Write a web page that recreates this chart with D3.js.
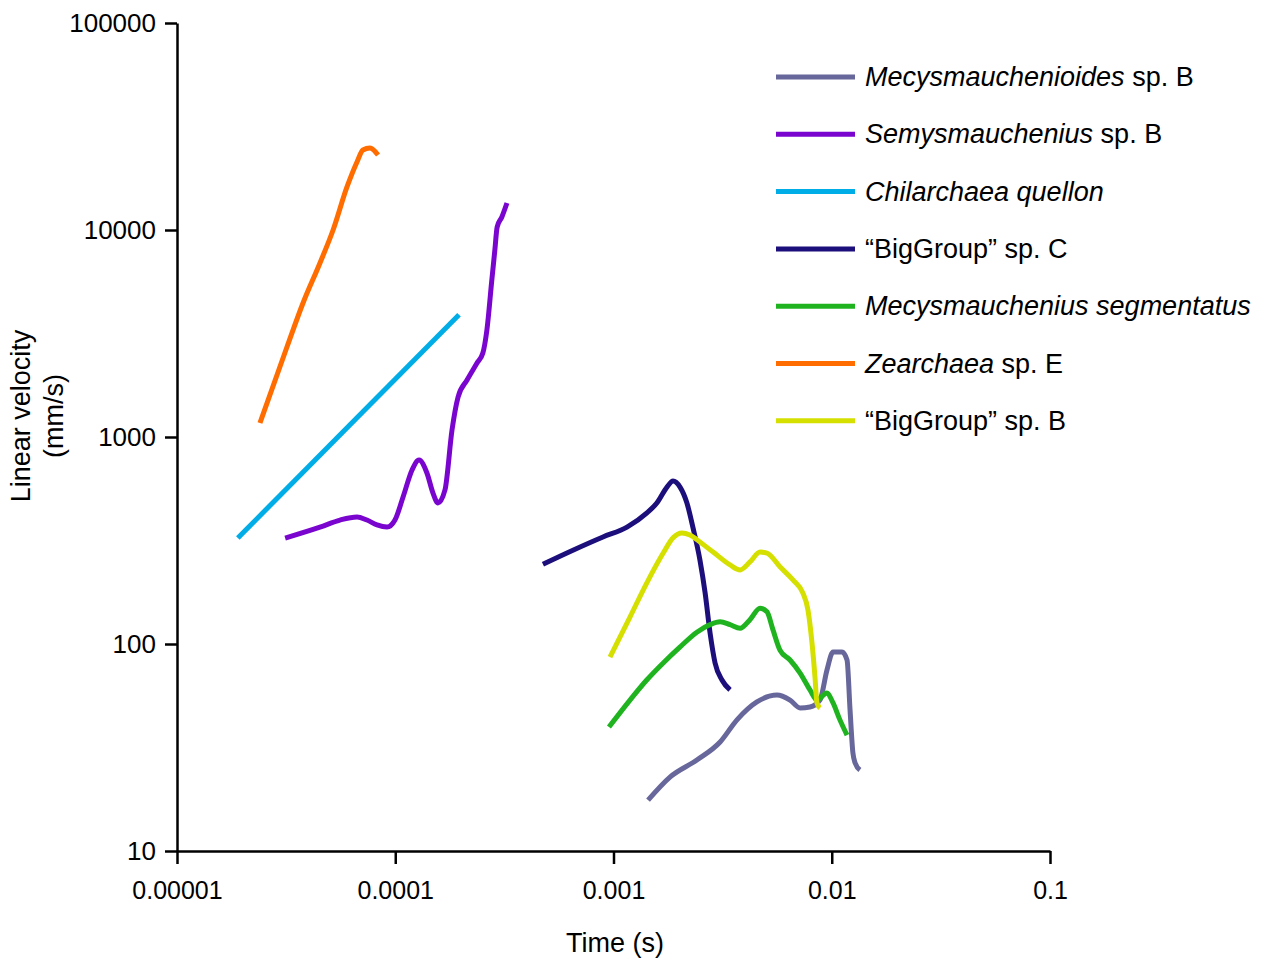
<!DOCTYPE html>
<html>
<head>
  <meta charset="utf-8">
  <title>Linear velocity vs time</title>
  <script src="https://d3js.org/d3.v7.min.js"></script>
  <style>
    body { margin: 0; background: #fff; }
    svg { display: block; font-family: "Liberation Sans", Arial, sans-serif; }
    .axis path, .axis line { stroke: #000; stroke-width: 2.5; }
    .axis text { fill: #000; }
    .x-axis text { font-size: 25px; }
    .y-axis text { font-size: 26px; }
    .series { fill: none; stroke-width: 5; }
    .legend text { font-size: 27px; fill: #000; }
  </style>
</head>
<body>
<svg id="chart"></svg>
<script>
  // data: [time (s), velocity (mm/s)]
  const mecysmauchenioides = [
    [1.44e-3, 17.6], [1.82e-3, 22.8], [2.41e-3, 27.5], [3.08e-3, 33.6], [3.68e-3, 43],
    [4.54e-3, 52.5], [5.61e-3, 56.7], [6.44e-3, 53.6], [7.16e-3, 49.1], [7.95e-3, 49.6],
    [8.83e-3, 53.6], [9.51e-3, 74.9], [1.014e-2, 91.5], [1.114e-2, 91.5], [1.175e-2, 83.7],
    [1.213e-2, 48], [1.25e-2, 29.8], [1.28e-2, 26.6], [1.346e-2, 24.6]
  ];
  const semysmauchenius = [
    [3.13e-5, 325], [4.52e-5, 367], [5.58e-5, 397], [6.68e-5, 411], [7.42e-5, 397],
    [8.25e-5, 376], [9.17e-5, 367], [9.97e-5, 397], [1.086e-4, 513], [1.194e-4, 693],
    [1.285e-4, 774], [1.397e-4, 670], [1.489e-4, 536], [1.57e-4, 480], [1.69e-4, 555],
    [1.82e-4, 1081], [1.94e-4, 1560], [2.133e-4, 1885], [2.37e-4, 2277], [2.52e-4, 2545],
    [2.63e-4, 3289], [2.77e-4, 5734], [2.86e-4, 8000], [2.93e-4, 10330], [3.08e-4, 11560],
    [3.25e-4, 13500]
  ];
  const chilarchaea = [[1.9e-5, 325], [1.96e-4, 3900]];
  const bigGroupC = [
    [4.75e-4, 243], [6.52e-4, 284], [8.95e-4, 329], [1.153e-3, 367], [1.423e-3, 430],
    [1.58e-3, 480], [1.758e-3, 573], [1.874e-3, 613], [2.018e-3, 573], [2.17e-3, 480],
    [2.31e-3, 367], [2.49e-3, 254], [2.63e-3, 176], [2.77e-3, 113], [2.92e-3, 81],
    [3.14e-3, 67], [3.42e-3, 60]
  ];
  const mecysmaucheniusSeg = [
    [9.53e-4, 39.7], [1.19e-3, 53.6], [1.42e-3, 67], [1.69e-3, 81], [2.02e-3, 96.8],
    [2.41e-3, 114], [2.77e-3, 124], [3.08e-3, 128], [3.42e-3, 124], [3.8e-3, 119],
    [4.22e-3, 131], [4.69e-3, 149], [5.05e-3, 143], [5.38e-3, 117], [5.79e-3, 93.5],
    [6.44e-3, 83.7], [7.16e-3, 72.4], [7.95e-3, 60], [8.55e-3, 53.6], [9.51e-3, 58],
    [1.014e-2, 51.9], [1.09e-2, 43], [1.175e-2, 36.3]
  ];
  const zearchaea = [
    [2.4e-5, 1169], [3.19e-5, 2722], [3.78e-5, 4440], [4.52e-5, 6930], [5.19e-5, 10000],
    [6.01e-5, 16140], [6.68e-5, 21310], [7.11e-5, 24340], [7.66e-5, 24890], [8.34e-5, 23030]
  ];
  const bigGroupB = [
    [9.64e-4, 86.5], [1.19e-3, 135], [1.42e-3, 197], [1.69e-3, 275], [1.87e-3, 325],
    [2.06e-3, 344], [2.24e-3, 336], [2.49e-3, 311], [2.86e-3, 278], [3.42e-3, 241],
    [3.8e-3, 228], [4.22e-3, 249], [4.69e-3, 278], [5.05e-3, 275], [5.79e-3, 236],
    [6.64e-3, 204], [7.38e-3, 176], [7.78e-3, 146], [8.12e-3, 101], [8.38e-3, 69],
    [8.55e-3, 52], [8.83e-3, 49]
  ];

  // legend names: [italic part, roman part]
  const seriesNames = [
    ["Mecysmauchenioides", " sp. B"],
    ["Semysmauchenius", " sp. B"],
    ["Chilarchaea quellon", ""],
    ["", "\u201CBigGroup\u201D sp. C"],
    ["Mecysmauchenius segmentatus", ""],
    ["Zearchaea", " sp. E"],
    ["", "\u201CBigGroup\u201D sp. B"]
  ];
  const seriesData = [mecysmauchenioides, semysmauchenius, chilarchaea, bigGroupC,
                      mecysmaucheniusSeg, zearchaea, bigGroupB];
  const seriesColors = ["#67679b", "#7a05cf", "#00ade6", "#1c0f7c", "#1fb41f", "#ff6c00", "#d5e000"];

  const xTicks = [1e-5, 1e-4, 1e-3, 1e-2, 1e-1];
  const xTickLabels = ["0.00001", "0.0001", "0.001", "0.01", "0.1"];
  const yTicks = [10, 100, 1000, 10000, 100000];
  const yTickLabels = ["10", "100", "1000", "10000", "100000"];

  const W = 1270, H = 965;
  const svg = d3.select("#chart").attr("width", W).attr("height", H);

  const x = d3.scaleLog().domain([1e-5, 0.1]).range([177, 1050]);
  const y = d3.scaleLog().domain([10, 100000]).range([851, 23]);

  // axes
  svg.append("g")
    .attr("class", "axis x-axis")
    .attr("transform", "translate(0,851)")
    .call(d3.axisBottom(x).tickValues(xTicks).tickFormat((d, i) => xTickLabels[i])
      .tickSize(13).tickPadding(17).tickSizeOuter(0));

  svg.append("g")
    .attr("class", "axis y-axis")
    .attr("transform", "translate(177,0)")
    .call(d3.axisLeft(y).tickValues(yTicks).tickFormat((d, i) => yTickLabels[i])
      .tickSize(12).tickPadding(9).tickSizeOuter(0));

  // axis titles
  svg.append("text")
    .attr("x", 615).attr("y", 952)
    .attr("text-anchor", "middle")
    .style("font-size", "27px")
    .text("Time (s)");

  const yTitle = svg.append("text")
    .attr("transform", "translate(30,416) rotate(-90)")
    .attr("text-anchor", "middle")
    .style("font-size", "27px");
  yTitle.append("tspan").attr("x", 0).attr("y", 0).text("Linear velocity");
  yTitle.append("tspan").attr("x", 0).attr("y", 33).text("(mm/s)");

  // lines
  const line = d3.line()
    .x(d => x(d[0]))
    .y(d => y(d[1]))
    .curve(d3.curveMonotoneX);

  svg.selectAll(".series")
    .data(seriesData)
    .enter()
    .append("path")
    .attr("class", "series")
    .attr("d", line)
    .style("stroke", (d, i) => seriesColors[i]);

  // legend
  const legend = svg.append("g").attr("class", "legend");
  const item = legend.selectAll("g")
    .data(seriesNames)
    .enter()
    .append("g")
    .attr("transform", (d, i) => `translate(776, ${77 + i * 57.3})`);

  item.append("line")
    .attr("x1", 0).attr("x2", 79)
    .attr("y1", 0).attr("y2", 0)
    .style("stroke-width", 5)
    .style("stroke", (d, i) => seriesColors[i]);

  const label = item.append("text")
    .attr("x", 89).attr("y", 9);
  label.append("tspan")
    .style("font-style", "italic")
    .text(d => d[0]);
  label.append("tspan")
    .text(d => d[1]);
</script>
</body>
</html>
